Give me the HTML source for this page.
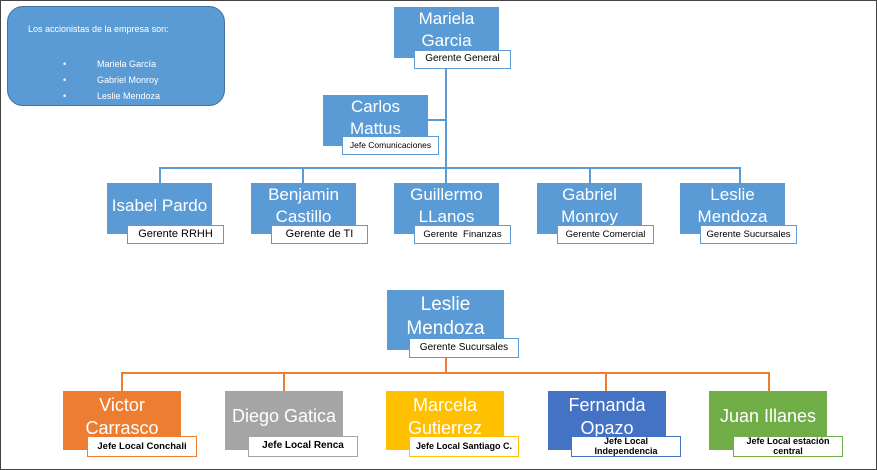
<!DOCTYPE html>
<html><head><meta charset="utf-8"><style>
body{margin:0;width:877px;height:470px;background:#fff;position:relative;overflow:hidden;font-family:"Liberation Sans",sans-serif}
.frame{position:absolute;left:0;top:0;width:875px;height:468px;border:1px solid #444}
.b{position:absolute;color:#fff;text-align:center;display:flex;align-items:center;justify-content:center;line-height:1.25;font-family:"Liberation Sans Narrow","Liberation Sans",sans-serif}
.t{position:absolute;background:#fff;border:1.5px solid #5b9bd5;font-size:10px;color:#000;display:flex;align-items:center;justify-content:center;text-align:center;line-height:1.05;box-sizing:border-box}
.l{position:absolute;background:#5b9bd5}
.o{position:absolute;background:#ed7d31}
.top{width:105px;height:51px;background:#5b9bd5;font-size:17px;padding-bottom:6px;box-sizing:border-box}
.bot{width:118px;height:59px;font-size:18px;padding-bottom:8px;box-sizing:border-box}
</style></head><body>
<div class="frame"></div>
<div style="position:absolute;left:7px;top:6px;width:216px;height:98px;background:#5b9bd5;border:1.5px solid #41719c;border-radius:16px;color:#fff;font-size:9px">
<div style="position:absolute;left:20px;top:17px">Los accionistas de la empresa son:</div>
<div style="position:absolute;left:55px;top:49px;line-height:16px">•<br>•<br>•</div>
<div style="position:absolute;left:89px;top:49px;line-height:16px">Mariela García<br>Gabriel Monroy<br>Leslie Mendoza</div>
</div>
<div class="l" style="left:445px;top:66px;width:2px;height:118px"></div>
<div class="l" style="left:427px;top:119px;width:19px;height:2px"></div>
<div class="l" style="left:159px;top:167px;width:582px;height:2px"></div>
<div class="l" style="left:159px;top:167px;width:2px;height:16px"></div>
<div class="l" style="left:302px;top:167px;width:2px;height:16px"></div>
<div class="l" style="left:589px;top:167px;width:2px;height:16px"></div>
<div class="l" style="left:739px;top:167px;width:2px;height:16px"></div>

<div class="b top" style="left:394px;top:7px">Mariela<br>Garcia</div>
<div class="t" style="left:414px;top:50px;width:97px;height:19px">Gerente General</div>
<div class="b top" style="left:323px;top:95px">Carlos<br>Mattus</div>
<div class="t" style="left:342px;top:136px;width:97px;height:19px;font-size:8.5px">Jefe Comunicaciones</div>

<div class="b top" style="left:107px;top:183px">Isabel Pardo</div>
<div class="t" style="left:127px;top:225px;width:97px;height:19px;font-size:11px">Gerente RRHH</div>
<div class="b top" style="left:251px;top:183px">Benjamin<br>Castillo</div>
<div class="t" style="left:271px;top:225px;width:97px;height:19px;font-size:11px">Gerente de TI</div>
<div class="b top" style="left:394px;top:183px">Guillermo<br>LLanos</div>
<div class="t" style="left:414px;top:225px;width:97px;height:19px;font-size:9.5px">Gerente&nbsp; Finanzas</div>
<div class="b top" style="left:537px;top:183px">Gabriel<br>Monroy</div>
<div class="t" style="left:557px;top:225px;width:97px;height:19px;font-size:9.5px">Gerente Comercial</div>
<div class="b top" style="left:680px;top:183px">Leslie<br>Mendoza</div>
<div class="t" style="left:700px;top:225px;width:97px;height:19px;font-size:9.5px">Gerente Sucursales</div>

<div class="o" style="left:445px;top:356px;width:2px;height:18px"></div>
<div class="o" style="left:121px;top:372px;width:649px;height:2px"></div>
<div class="o" style="left:121px;top:372px;width:2px;height:19px"></div>
<div class="o" style="left:283px;top:372px;width:2px;height:19px"></div>
<div class="o" style="left:605px;top:372px;width:2px;height:19px"></div>
<div class="o" style="left:768px;top:372px;width:2px;height:19px"></div>

<div class="b" style="left:387px;top:290px;width:117px;height:60px;background:#5b9bd5;font-size:19px;padding-bottom:6px;box-sizing:border-box">Leslie<br>Mendoza</div>
<div class="t" style="left:409px;top:338px;width:110px;height:20px">Gerente Sucursales</div>

<div class="b bot" style="left:63px;top:391px;background:#ed7d31">Victor<br>Carrasco</div>
<div class="t" style="left:87px;top:436px;width:110px;height:21px;border-color:#ed7d31;font-weight:bold;font-size:9.5px">Jefe Local Conchali</div>
<div class="b bot" style="left:225px;top:391px;background:#a5a5a5">Diego Gatica</div>
<div class="t" style="left:248px;top:436px;width:110px;height:21px;border-color:#a5a5a5;font-weight:bold;font-size:10px">Jefe Local Renca</div>
<div class="b bot" style="left:386px;top:391px;background:#ffc000">Marcela<br>Gutierrez</div>
<div class="t" style="left:409px;top:436px;width:110px;height:21px;border-color:#ffc000;font-weight:bold;font-size:9px">Jefe Local Santiago C.</div>
<div class="b bot" style="left:548px;top:391px;background:#4472c4">Fernanda<br>Opazo</div>
<div class="t" style="left:571px;top:436px;width:110px;height:21px;border-color:#4472c4;font-weight:bold;font-size:9px">Jefe Local<br>Independencia</div>
<div class="b bot" style="left:709px;top:391px;background:#70ad47">Juan Illanes</div>
<div class="t" style="left:733px;top:436px;width:110px;height:21px;border-color:#70ad47;font-weight:bold;font-size:9px">Jefe Local estación<br>central</div>
</body></html>
